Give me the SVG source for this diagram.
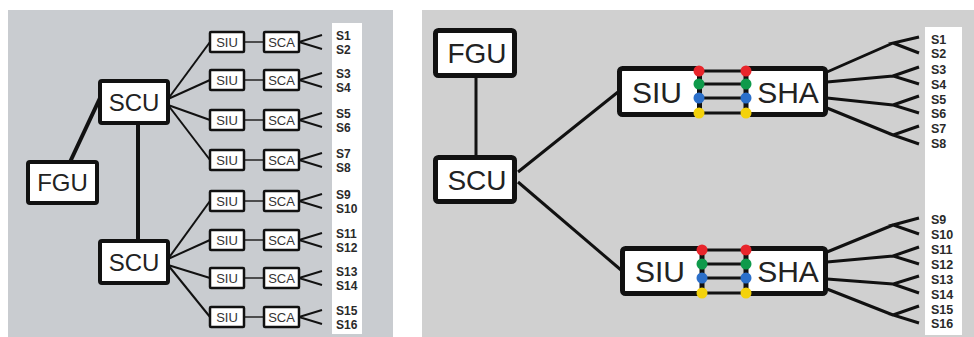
<svg xmlns="http://www.w3.org/2000/svg" width="974" height="337" viewBox="0 0 974 337">
<style>
.bgL{fill:#c9ccd0}
.bgR{fill:#d0d0d0}
.strip{fill:#ffffff}
.big{fill:#fff;stroke:#111;stroke-width:4}
.huge{fill:#fff;stroke:#111;stroke-width:5}
.small{fill:#fff;stroke:#111;stroke-width:2.5}
.t{font-family:"Liberation Sans",Arial,sans-serif;fill:#222;text-anchor:middle}
.tb24{font-size:24px}
.tb28{font-size:28px}
.tb30{font-size:30px}
.ts{font-size:13px;fill:#333}
.lab{font-family:"Liberation Sans",Arial,sans-serif;font-weight:bold;fill:#2a2a2a;font-size:12px}
.labR{font-family:"Liberation Sans",Arial,sans-serif;font-weight:bold;fill:#2a2a2a;font-size:12.5px}
.c4{stroke:#111;stroke-width:4;fill:none}
.c3{stroke:#111;stroke-width:3;fill:none}
.c2{stroke:#111;stroke-width:2;fill:none}
.c15{stroke:#222;stroke-width:1.5;fill:none}
.red{fill:#e8252b}
.grn{fill:#0e9a4b}
.blu{fill:#2b6fca}
.yel{fill:#f4d20c}
</style>
<rect width="974" height="337" fill="#ffffff"/>
<rect class="bgL" x="8" y="10" width="385" height="327"/>
<rect class="bgR" x="422" y="10" width="552" height="327"/>
<rect class="strip" x="332" y="23" width="30" height="311"/>
<rect class="strip" x="925" y="27" width="37" height="308"/>

<g id="connectors">
<line class="c4" x1="70" y1="162" x2="100" y2="98"/>
<line class="c4" x1="138" y1="123" x2="138" y2="241"/>
<line class="c2" x1="168" y1="99" x2="210" y2="42"/>
<line class="c2" x1="168" y1="99" x2="210" y2="80"/>
<line class="c2" x1="168" y1="105" x2="210" y2="120"/>
<line class="c2" x1="168" y1="105" x2="210" y2="160"/>
<line class="c2" x1="168" y1="259" x2="210" y2="201"/>
<line class="c2" x1="168" y1="259" x2="210" y2="240"/>
<line class="c2" x1="168" y1="265" x2="210" y2="278"/>
<line class="c2" x1="168" y1="265" x2="210" y2="317"/>
<g id="siu-sca-links">
<line class="c15" x1="244" y1="42" x2="264" y2="42"/>
<line class="c15" x1="244" y1="80" x2="264" y2="80"/>
<line class="c15" x1="244" y1="120" x2="264" y2="120"/>
<line class="c15" x1="244" y1="160" x2="264" y2="160"/>
<line class="c15" x1="244" y1="201" x2="264" y2="201"/>
<line class="c15" x1="244" y1="240" x2="264" y2="240"/>
<line class="c15" x1="244" y1="278" x2="264" y2="278"/>
<line class="c15" x1="244" y1="317" x2="264" y2="317"/>
</g>
<g id="left-forks">
<path class="c2" d="M322,35 L299,42 L322,49"/>
<path class="c2" d="M322,73 L299,80 L322,87"/>
<path class="c2" d="M322,113 L299,120 L322,127"/>
<path class="c2" d="M322,153 L299,160 L322,167"/>
<path class="c2" d="M322,194 L299,201 L322,208"/>
<path class="c2" d="M322,233 L299,240 L322,247"/>
<path class="c2" d="M322,271 L299,278 L322,285"/>
<path class="c2" d="M322,310 L299,317 L322,324"/>
</g>
<line class="c3" x1="476" y1="78" x2="476" y2="155"/>
<line class="c3" x1="518" y1="172" x2="618" y2="92"/>
<line class="c3" x1="518" y1="182" x2="621" y2="270"/>
<g id="right-links-top">
<line class="c3" x1="699" y1="71" x2="746" y2="71"/>
<line class="c3" x1="699" y1="84" x2="746" y2="84"/>
<line class="c3" x1="699" y1="98" x2="746" y2="98"/>
<line class="c3" x1="699" y1="113" x2="746" y2="113"/>
</g>
<g id="right-links-bottom">
<line class="c3" x1="702" y1="250" x2="746" y2="250"/>
<line class="c3" x1="702" y1="264" x2="746" y2="264"/>
<line class="c3" x1="702" y1="278" x2="746" y2="278"/>
<line class="c3" x1="702" y1="293" x2="746" y2="293"/>
</g>
<g id="right-forks-top">
<path class="c3" d="M827,72 L893,43 M919,37 L893,43 L919,53"/>
<path class="c3" d="M827,82 L893,76 M919,67 L893,76 L919,84"/>
<path class="c3" d="M827,98 L893,105 M919,96 L893,105 L919,113"/>
<path class="c3" d="M827,108 L893,135 M919,126 L893,135 L919,144"/>
</g>
<g id="right-forks-bottom">
<path class="c3" d="M827,252 L893,225 M919,218 L893,225 L919,234"/>
<path class="c3" d="M827,262 L893,256 M919,247 L893,256 L919,264"/>
<path class="c3" d="M827,279 L893,284 M919,276 L893,284 L919,293"/>
<path class="c3" d="M827,289 L893,315 M919,306 L893,315 L919,323"/>
</g>
</g>

<g id="fgu-left"><rect class="big" x="28" y="162" width="69" height="41" rx="2"/><text class="t tb24" x="62.5" y="191">FGU</text></g>
<g id="scu-left-1"><rect class="big" x="100" y="81" width="68" height="42" rx="2"/><text class="t tb24" x="134" y="111">SCU</text></g>
<g id="scu-left-2"><rect class="big" x="100" y="241" width="68" height="42" rx="2"/><text class="t tb24" x="134" y="271">SCU</text></g>

<g id="siu-l1"><rect class="small" x="210" y="32" width="34" height="20" rx="1"/><text class="t ts" x="227" y="46.7">SIU</text></g>
<g id="sca-l1"><rect class="small" x="264" y="32" width="35" height="20" rx="1"/><text class="t ts" x="281.5" y="46.7">SCA</text></g>
<g id="siu-l2"><rect class="small" x="210" y="70" width="34" height="20" rx="1"/><text class="t ts" x="227" y="84.7">SIU</text></g>
<g id="sca-l2"><rect class="small" x="264" y="70" width="35" height="20" rx="1"/><text class="t ts" x="281.5" y="84.7">SCA</text></g>
<g id="siu-l3"><rect class="small" x="210" y="110" width="34" height="20" rx="1"/><text class="t ts" x="227" y="124.7">SIU</text></g>
<g id="sca-l3"><rect class="small" x="264" y="110" width="35" height="20" rx="1"/><text class="t ts" x="281.5" y="124.7">SCA</text></g>
<g id="siu-l4"><rect class="small" x="210" y="150" width="34" height="20" rx="1"/><text class="t ts" x="227" y="164.7">SIU</text></g>
<g id="sca-l4"><rect class="small" x="264" y="150" width="35" height="20" rx="1"/><text class="t ts" x="281.5" y="164.7">SCA</text></g>
<g id="siu-l5"><rect class="small" x="210" y="191" width="34" height="20" rx="1"/><text class="t ts" x="227" y="205.7">SIU</text></g>
<g id="sca-l5"><rect class="small" x="264" y="191" width="35" height="20" rx="1"/><text class="t ts" x="281.5" y="205.7">SCA</text></g>
<g id="siu-l6"><rect class="small" x="210" y="230" width="34" height="20" rx="1"/><text class="t ts" x="227" y="244.7">SIU</text></g>
<g id="sca-l6"><rect class="small" x="264" y="230" width="35" height="20" rx="1"/><text class="t ts" x="281.5" y="244.7">SCA</text></g>
<g id="siu-l7"><rect class="small" x="210" y="268" width="34" height="20" rx="1"/><text class="t ts" x="227" y="282.7">SIU</text></g>
<g id="sca-l7"><rect class="small" x="264" y="268" width="35" height="20" rx="1"/><text class="t ts" x="281.5" y="282.7">SCA</text></g>
<g id="siu-l8"><rect class="small" x="210" y="307" width="34" height="20" rx="1"/><text class="t ts" x="227" y="321.7">SIU</text></g>
<g id="sca-l8"><rect class="small" x="264" y="307" width="35" height="20" rx="1"/><text class="t ts" x="281.5" y="321.7">SCA</text></g>

<g id="labels-left">
<text class="lab" x="336" y="40">S1</text><text class="lab" x="336" y="53.5">S2</text>
<text class="lab" x="336" y="78">S3</text><text class="lab" x="336" y="91.5">S4</text>
<text class="lab" x="336" y="118">S5</text><text class="lab" x="336" y="131.5">S6</text>
<text class="lab" x="336" y="158">S7</text><text class="lab" x="336" y="171.5">S8</text>
<text class="lab" x="336" y="199">S9</text><text class="lab" x="336" y="212.5">S10</text>
<text class="lab" x="336" y="238">S11</text><text class="lab" x="336" y="251.5">S12</text>
<text class="lab" x="336" y="276">S13</text><text class="lab" x="336" y="289.5">S14</text>
<text class="lab" x="336" y="315">S15</text><text class="lab" x="336" y="328.5">S16</text>
</g>

<g id="fgu-right"><rect class="huge" x="435.5" y="30.5" width="79" height="45" rx="3"/><text class="t tb28" x="477" y="63">FGU</text></g>
<g id="scu-right"><rect class="huge" x="435.5" y="157.5" width="79" height="44" rx="3"/><text class="t tb28" x="477" y="189.5">SCU</text></g>

<g id="siu-r1"><rect class="huge" x="619.5" y="68.5" width="80" height="46" rx="3"/><text class="t tb30" x="657" y="102.5">SIU</text></g>
<g id="sha-r1"><rect class="huge" x="746" y="68.5" width="79.5" height="46" rx="3"/><text class="t tb30" x="788" y="102.5">SHA</text></g>
<g id="dots-r1">
<circle class="red" cx="699" cy="71" r="5.5"/><circle class="grn" cx="699" cy="84" r="5.5"/><circle class="blu" cx="699" cy="98" r="5.5"/><circle class="yel" cx="699" cy="113" r="5.5"/>
<circle class="red" cx="746" cy="71" r="5.5"/><circle class="grn" cx="746" cy="84" r="5.5"/><circle class="blu" cx="746" cy="98" r="5.5"/><circle class="yel" cx="746" cy="113" r="5.5"/>
</g>

<g id="siu-r2"><rect class="huge" x="622.5" y="248.5" width="79.5" height="45" rx="3"/><text class="t tb30" x="660" y="282">SIU</text></g>
<g id="sha-r2"><rect class="huge" x="746" y="248.5" width="79.5" height="45" rx="3"/><text class="t tb30" x="788" y="282">SHA</text></g>
<g id="dots-r2">
<circle class="red" cx="702" cy="250" r="5.5"/><circle class="grn" cx="702" cy="264" r="5.5"/><circle class="blu" cx="702" cy="278" r="5.5"/><circle class="yel" cx="702" cy="293" r="5.5"/>
<circle class="red" cx="746" cy="250" r="5.5"/><circle class="grn" cx="746" cy="264" r="5.5"/><circle class="blu" cx="746" cy="278" r="5.5"/><circle class="yel" cx="746" cy="293" r="5.5"/>
</g>

<g id="labels-right">
<text class="labR" x="931" y="43.5">S1</text><text class="labR" x="931" y="57.5">S2</text>
<text class="labR" x="931" y="73.5">S3</text><text class="labR" x="931" y="88.5">S4</text>
<text class="labR" x="931" y="103.5">S5</text><text class="labR" x="931" y="117.5">S6</text>
<text class="labR" x="931" y="132.5">S7</text><text class="labR" x="931" y="147.5">S8</text>
<text class="labR" x="931" y="223.5">S9</text><text class="labR" x="931" y="238.5">S10</text>
<text class="labR" x="931" y="253.5">S11</text><text class="labR" x="931" y="268.5">S12</text>
<text class="labR" x="931" y="283.5">S13</text><text class="labR" x="931" y="298.5">S14</text>
<text class="labR" x="931" y="313.5">S15</text><text class="labR" x="931" y="327.5">S16</text>
</g>
</svg>
